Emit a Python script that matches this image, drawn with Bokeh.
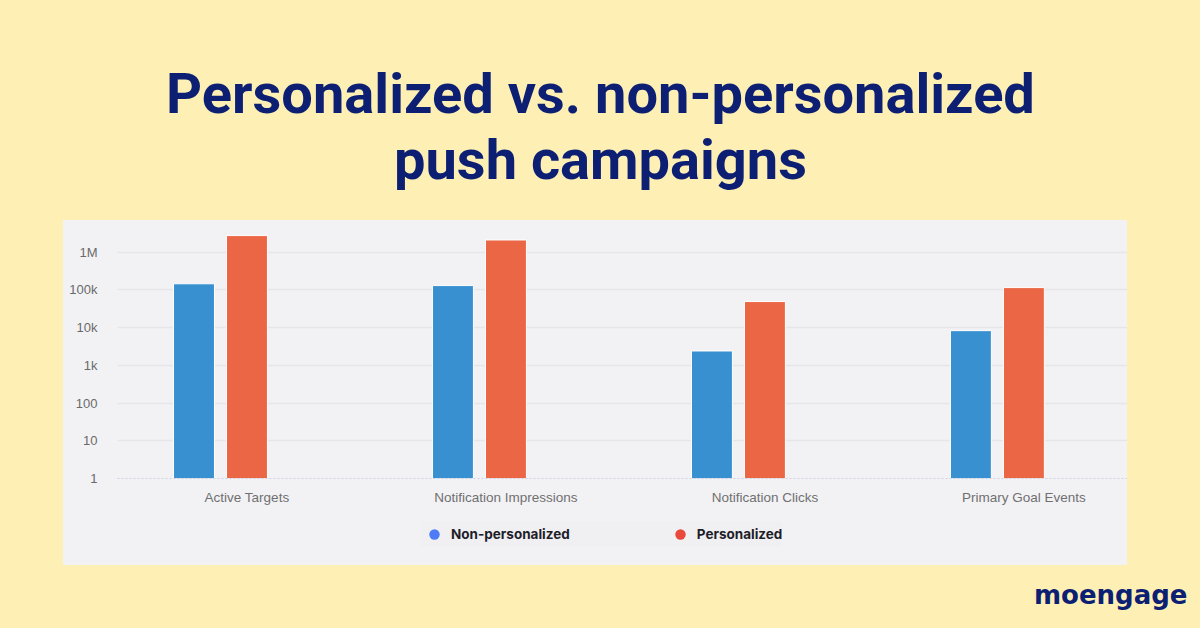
import numpy as np
from bokeh.plotting import figure
from bokeh.models import (Range1d, FixedTicker, CustomJSTickFormatter, Legend,
                          LegendItem, Spacer, ColumnDataSource)
from bokeh.layouts import column, row
from bokeh.core.properties import value
from bokeh.embed import file_html
from bokeh.resources import INLINE

# ---------------- data ----------------
categories = ["Active Targets", "Notification Impressions",
              "Notification Clicks", "Primary Goal Events"]
non_personalized = [145000, 130000, 2400, 8300]
personalized = [2750000, 2100000, 49000, 115000]
series_names = ["Non-personalized", "Personalized"]
y_ticks = [1, 10, 100, 1000, 10000, 100000, 1000000]
title_lines = ["Personalized vs. non-personalized", "push campaigns"]
brand = "moengage"

# ---------------- styles ----------------
YELLOW = "#FEF0B5"
PANEL = "#F2F2F5"
NAVY = "#0C1F73"
BLUE = "#3990D0"
RED = "#EA6644"
DOT_BLUE = "#4E7BF6"
DOT_RED = "#E9483A"


def blank(fig, color):
    fig.background_fill_color = color
    fig.border_fill_color = color
    fig.outline_line_color = None
    fig.axis.visible = False
    fig.grid.visible = False


# ---------------- title figure ----------------
tf = figure(width=1200, height=220, x_range=Range1d(0, 1200), y_range=Range1d(220, 0),
            output_backend="svg", toolbar_location=None, min_border=0, title=None,
            styles={"background-color": YELLOW})
blank(tf, YELLOW)
tf.text(x=[600, 600], y=[93, 159], text=title_lines, text_align="center",
        text_baseline="alphabetic", text_font=value("Roboto"), text_font_style="bold",
        text_font_size="56px", text_color=NAVY)

# ---------------- chart figure ----------------
xc = np.arange(len(categories)) + 0.5
src = ColumnDataSource(dict(
    xb=xc - 0.2046, xr=xc,
    np_vals=non_personalized, p_vals=personalized,
))

p = figure(width=1064, height=288, x_range=Range1d(0, 3.9),
           y_range=Range1d(1, 10 ** 6.627), y_axis_type="log",
           output_backend="svg", toolbar_location=None, title=None,
           min_border_left=54, min_border_right=0, min_border_top=8, min_border_bottom=30,
           styles={"background-color": PANEL})
p.background_fill_color = PANEL
p.border_fill_color = PANEL
p.outline_line_color = None

p.vbar(x="xb", top="np_vals", bottom=1, width=0.158, source=src,
       fill_color=BLUE, line_color="white", line_width=1)
p.vbar(x="xr", top="p_vals", bottom=1, width=0.158, source=src,
       fill_color=RED, line_color="white", line_width=1)

# y axis
p.yaxis.ticker = FixedTicker(ticks=y_ticks)
p.yaxis.formatter = CustomJSTickFormatter(code="""
const t = Math.round(tick);
if (t >= 1000000) return (t/1000000) + 'M';
if (t >= 1000) return (t/1000) + 'k';
return t.toString();
""")
p.yaxis.axis_line_color = None
p.yaxis.major_tick_line_color = None
p.yaxis.minor_tick_line_color = None
p.yaxis.major_label_standoff = 14
p.yaxis.major_label_text_font = "Liberation Sans"
p.yaxis.major_label_text_font_size = "13px"
p.yaxis.major_label_text_color = "#6A6A6A"
p.ygrid.grid_line_color = "#E6E6EA"
p.ygrid.grid_line_width = 1.5
p.xgrid.grid_line_color = None

# x axis
p.xaxis.ticker = FixedTicker(ticks=list(xc))
p.xaxis.formatter = CustomJSTickFormatter(args=dict(labels=categories),
                                          code="return labels[Math.round(tick - 0.5)];")
p.xaxis.axis_line_color = "#CDD2E6"
p.xaxis.axis_line_dash = "2 2"
p.xaxis.major_tick_line_color = None
p.xaxis.minor_tick_line_color = None
p.xaxis.major_label_standoff = 5
p.xaxis.major_label_text_font = "Liberation Sans"
p.xaxis.major_label_text_font_size = "13.5px"
p.xaxis.major_label_text_color = "#707070"

# ---------------- legend figure (continues the grey panel) ----------------
lf = figure(width=1064, height=57, x_range=Range1d(0, 1), y_range=Range1d(0, 1),
            output_backend="svg", toolbar_location=None, min_border=0, title=None,
            styles={"background-color": PANEL})
blank(lf, PANEL)
# legend proxies: single off-range points, only used for the legend swatches
r_b = lf.scatter(x=[-5], y=[-5], size=10, fill_color=DOT_BLUE, line_color=None)
r_r = lf.scatter(x=[-5], y=[-5], size=10, fill_color=DOT_RED, line_color=None)
legend = Legend(items=[LegendItem(label=series_names[0], renderers=[r_b], index=0),
                       LegendItem(label=series_names[1], renderers=[r_r], index=0)],
                orientation="horizontal", location=(358, 18),
                spacing=97, glyph_width=26, glyph_height=26, label_standoff=4,
                padding=2, margin=0,
                background_fill_color="#EFEFF2", border_line_color=None,
                label_text_font="Inter", label_text_font_style="bold",
                label_text_font_size="13.5px", label_text_color="#1E1E2A")
lf.add_layout(legend)

# ---------------- bottom figure ----------------
bf = figure(width=1200, height=63, x_range=Range1d(0, 1200), y_range=Range1d(63, 0),
            output_backend="svg", toolbar_location=None, min_border=0, title=None,
            styles={"background-color": YELLOW})
blank(bf, YELLOW)
bf.text(x=[1187], y=[29], text=[brand], text_align="right", text_baseline="alphabetic",
        text_font=value("DejaVu Sans"), text_font_style="bold",
        text_font_size="26px", text_color=NAVY)

layout = column(tf,
                row(Spacer(width=63, height=288), p, Spacer(width=73, height=288)),
                row(Spacer(width=63, height=57), lf, Spacer(width=73, height=57)),
                bf)

html = file_html(layout, INLINE)
html = html.replace("</head>", "<style>html,body{background:%s;}</style></head>" % YELLOW, 1)
open("out.html", "w").write(html)
